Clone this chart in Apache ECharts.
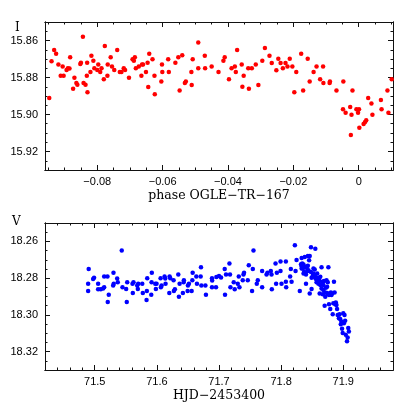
<!DOCTYPE html>
<html><head><meta charset="utf-8">
<script src="https://cdn.jsdelivr.net/npm/echarts@6/dist/echarts.min.js"></script>
<style>html,body{margin:0;padding:0;background:#fff}#c{width:415px;height:415px}</style>
</head><body><div id="c"></div>
<script>
// ---- top panel: phase vs I magnitude ----
const phase = [
-0.0947,-0.0940,-0.0932,-0.0926,-0.0919,-0.0912,-0.0906,-0.0903,-0.0894,-0.0890,
-0.0885,-0.0883,-0.0874,-0.0870,-0.0864,-0.0861,-0.0852,-0.0850,-0.0844,-0.0842,
-0.0836,-0.0832,-0.0831,-0.0830,-0.0821,-0.0818,-0.0812,-0.0809,-0.0800,-0.0797,
-0.0791,-0.0787,-0.0780,-0.0777,-0.0769,-0.0768,-0.0759,-0.0755,-0.0748,-0.0739,
-0.0731,-0.0726,-0.0719,-0.0715,-0.0703,-0.0692,-0.0688,-0.0685,-0.0682,-0.0673,
-0.0665,-0.0663,-0.0660,-0.0651,-0.0646,-0.0644,-0.0641,-0.0631,-0.0625,-0.0624,
-0.0604,-0.0602,-0.0601,-0.0583,-0.0581,-0.0561,-0.0552,-0.0548,-0.0540,-0.0532,
-0.0529,-0.0512,-0.0511,-0.0508,-0.0491,-0.0491,-0.0471,-0.0470,
-0.0450,-0.0429,-0.0414,-0.0410,-0.0397,-0.0389,-0.0379,-0.0376,-0.0372,-0.0358,
-0.0356,-0.0352,-0.0338,-0.0336,-0.0327,-0.0315,-0.0307,-0.0295,-0.0287,-0.0273,
-0.0266,-0.0252,-0.0246,-0.0239,-0.0232,-0.0224,-0.0218,-0.0211,-0.0203,-0.0197,
-0.0191,-0.0176,-0.0170,-0.0156,-0.0150,-0.0138,-0.0129,-0.0118,-0.0109,-0.0108,
-0.0089,-0.0088,-0.0068,-0.0048,-0.0047,-0.0040,-0.0026,-0.0022,-0.0024,-0.0019,
-0.0007,-0.0002,0.0001,0.0002,0.0015,0.0019,0.0023,0.0029,0.0039,0.0042,
0.0068,0.0070,0.0088,0.0091,0.0101
];
const magI = [
15.8911,15.8712,15.8651,15.8671,15.8730,15.8790,15.8741,15.8790,15.8759,15.8750,
15.8752,15.8690,15.8861,15.8801,15.8830,15.8839,15.8727,15.8720,15.8580,15.8830,
15.8839,15.8790,15.8720,15.8880,15.8770,15.8682,15.8710,15.8750,15.8759,15.8730,
15.8770,15.8750,15.8810,15.8630,15.8790,15.8730,15.8690,15.8741,15.8759,15.8651,
15.8770,15.8770,15.8750,15.8759,15.8801,15.8701,15.8710,15.8690,15.8750,15.8741,
15.8790,15.8730,15.8730,15.8770,15.8720,15.8852,15.8671,15.8701,15.8790,15.8891,
15.8821,15.8730,15.8770,15.8701,15.8770,15.8720,15.8690,15.8870,15.8680,15.8830,
15.8821,15.8770,15.8841,15.8701,15.8611,15.8750,15.8682,15.8750,
15.8741,15.8770,15.8710,15.8690,15.8810,15.8750,15.8741,15.8770,15.8651,15.8730,
15.8850,15.8790,15.8750,15.8861,15.8750,15.8730,15.8841,15.8710,15.8640,15.8682,
15.8721,15.8761,15.8699,15.8721,15.8750,15.8721,15.8741,15.8699,15.8741,15.8880,
15.8770,15.8671,15.8870,15.8699,15.8821,15.8770,15.8741,15.8810,15.8741,15.8830,
15.8830,15.8821,15.8870,15.8971,15.8821,15.8991,15.8960,15.9002,15.9111,15.8870,
15.8971,15.8991,15.8971,15.9071,15.9051,15.9042,15.9031,15.8911,15.8940,15.9002,
15.8921,15.8971,15.8870,15.8991,15.8810
];

// ---- bottom panel: HJD-2453400 vs V magnitude ----
const hjd = [
71.4894,71.4894,71.4903,71.4974,71.4990,71.5055,71.5055,71.5097,71.5135,71.5152,
71.5152,71.5205,71.5210,71.5226,71.5297,71.5302,71.5306,71.5361,71.5371,71.5435,
71.5447,71.5506,71.5516,71.5523,71.5608,71.5613,71.5624,71.5684,71.5694,71.5700,
71.5765,71.5774,71.5834,71.5839,71.5845,71.5910,71.5915,71.5919,71.5974,71.5995,
71.5984,71.6060,71.6065,71.6076,71.6124,71.6135,71.6140,71.6200,71.6205,71.6216,
71.6269,71.6274,71.6290,71.6345,71.6355,71.6366,71.6419,71.6431,71.6435,71.6495,
71.6500,71.6516,71.6560,71.6571,71.6576,71.6635,71.6645,71.6710,71.6705,71.6716,
71.6781,71.6790,
71.6887,71.6890,71.6887,71.6952,71.6958,71.7000,71.7033,71.7097,71.7092,71.7113,
71.7168,71.7177,71.7184,71.7237,71.7253,71.7302,71.7318,71.7329,71.7382,71.7394,
71.7403,71.7463,71.7479,71.7532,71.7544,71.7555,71.7608,71.7624,71.7694,71.7694,
71.7765,71.7780,71.7834,71.7845,71.7850,71.7910,71.7919,71.7931,71.7990,71.7990,
71.8006,71.8076,71.8076,71.8081,71.8145,71.8156,71.8168,71.8221,71.8232,71.8248,
71.830,71.832,71.833,71.834,71.833,71.835,71.836,71.837,71.838,71.839,
71.840,71.841,71.842,71.843,71.843,71.845,71.846,71.846,71.848,71.849,
71.849,71.851,71.852,71.853,71.854,71.855,71.855,71.856,71.857,71.858,
71.859,71.860,71.861,71.862,71.863,71.865,71.866,71.867,71.868,71.869,
71.870,71.871,71.871,71.872,71.873,71.874,71.874,71.875,71.876,71.877,
71.877,71.879,71.880,71.881,71.882,71.883,71.884,71.885,71.886,71.887,
71.888,71.889,71.890,71.891,71.893,71.894,71.895,71.896,71.897,71.898,
71.899,71.900,71.901,71.902,71.903,71.904,71.906,71.907,71.908,71.909,
71.833,71.836,71.840,71.844,71.848,71.852,71.854,71.858,71.861,71.863,
71.865,71.868
];
const magV = [
18.2870,18.2831,18.2750,18.2805,18.2798,18.2831,18.2861,18.2861,18.2856,18.2791,
18.2850,18.2791,18.2930,18.2890,18.2840,18.2771,18.2831,18.2802,18.2822,18.2650,
18.2850,18.2859,18.2930,18.2822,18.2831,18.2881,18.2822,18.2840,18.2859,18.2831,
18.2831,18.2881,18.2919,18.2870,18.2800,18.2890,18.2822,18.2771,18.2831,18.2831,
18.2859,18.2800,18.2850,18.2840,18.2791,18.2802,18.2831,18.2881,18.2791,18.2800,
18.2811,18.2870,18.2861,18.2780,18.2901,18.2831,18.2881,18.2822,18.2811,18.2870,
18.2840,18.2831,18.2870,18.2811,18.2771,18.2791,18.2831,18.2741,18.2791,18.2840,
18.2840,18.2890,
18.2800,18.2813,18.2850,18.2850,18.2794,18.2789,18.2796,18.2890,18.2750,18.2780,
18.2721,18.2780,18.2850,18.2822,18.2861,18.2831,18.2791,18.2850,18.2811,18.2780,
18.2771,18.2811,18.2730,18.2870,18.2750,18.2650,18.2831,18.2811,18.2761,18.2850,
18.2780,18.2771,18.2761,18.2780,18.2861,18.2721,18.2831,18.2771,18.2710,18.2761,
18.2831,18.2710,18.2820,18.2850,18.2791,18.2750,18.2820,18.2621,18.2761,18.2701,
18.2870,18.2724,18.2690,18.2721,18.2735,18.2748,18.2775,18.2766,18.2685,18.2739,
18.2831,18.2744,18.2762,18.2679,18.2733,18.2703,18.2679,18.2883,18.2632,18.2798,
18.2859,18.2787,18.2748,18.2793,18.2753,18.2798,18.2640,18.2805,18.2823,18.2775,
18.2816,18.2831,18.2816,18.2883,18.2793,18.2741,18.2820,18.2888,18.2838,18.2816,
18.2950,18.2901,18.2878,18.2852,18.2811,18.2881,18.2847,18.2823,18.2741,18.2892,
18.2942,18.2968,18.2878,18.2892,18.2883,18.2996,18.2937,18.2820,18.2878,18.2942,
18.2932,18.2946,18.2968,18.3000,18.3018,18.2996,18.3022,18.3051,18.3036,18.3076,
18.3099,18.2991,18.3045,18.3000,18.3032,18.3108,18.3144,18.3123,18.3072,18.3090,
18.2748,18.2726,18.2780,18.2757,18.2766,18.2775,18.2784,18.2798,18.2805,18.2838,
18.2856,18.2865
];

const topXTitle = 'phase OGLE\u2212TR\u2212167';
const botXTitle = 'HJD\u22122453400';
const topYTitle = 'I';
const botYTitle = 'V';

const TICK_FONT = '"Liberation Sans", Arial, sans-serif';
const TITLE_FONT = '"DejaVu Serif", serif';
const INK = '#111';

function fmtPhase(v) {
  if (Math.abs(v) < 1e-9) return '0';
  return (v < 0 ? '\u2212' : '') + Math.abs(v).toFixed(2);
}

function axes(dim, grid, min, max, major, minor, fmt, name) {
  const pos = dim === 'x' ? ['bottom', 'top'] : ['left', 'right'];
  const inv = dim === 'y';
  const span = max - min;
  const base = {
    type: 'value', gridIndex: grid, min: min, max: max, inverse: inv,
    splitLine: { show: false },
    axisLine: { show: true, onZero: false, lineStyle: { color: INK, width: 1 } },
    scale: true
  };
  const list = [];
  [0, 1].forEach(side => {
    list.push(Object.assign({}, base, {
      position: pos[side],
      splitNumber: Math.round(span / major),
      minInterval: major, maxInterval: major,
      axisTick: { show: true, inside: true, length: 5, lineStyle: { color: INK, width: 1 } },
      axisLabel: side === 0 ? {
        show: true, formatter: fmt, showMinLabel: false, showMaxLabel: false,
        color: '#000', fontFamily: TICK_FONT, fontSize: 11, margin: dim === 'x' ? 6 : 7
      } : { show: false },
      name: side === 0 && dim === 'x' ? name : '',
      nameLocation: 'middle', nameGap: 19,
      nameTextStyle: { fontFamily: TITLE_FONT, fontSize: 12.5, color: '#000' }
    }));
    list.push(Object.assign({}, base, {
      position: pos[side],
      splitNumber: Math.round(span / minor),
      minInterval: minor, maxInterval: minor,
      axisTick: { show: true, inside: true, length: 2.5, lineStyle: { color: INK, width: 1 } },
      axisLabel: { show: false }
    }));
  });
  return list;
}

const xAxes = [].concat(
  axes('x', 0, -0.096, 0.0105, 0.02, 0.005, fmtPhase, topXTitle),
  axes('x', 1, 71.42, 71.98, 0.1, 0.02, v => v.toFixed(1), botXTitle)
);
const yAxes = [].concat(
  axes('y', 0, 15.85, 15.93, 0.02, 0.005, v => v.toFixed(2), ''),
  axes('y', 1, 18.25, 18.33, 0.02, 0.005, v => v.toFixed(2), '')
);

const chart = echarts.init(document.getElementById('c'), null, { renderer: 'canvas' });
chart.setOption({
  animation: false,
  backgroundColor: '#fff',
  grid: [
    { left: 45, top: 22, width: 348, height: 148 },
    { left: 45, top: 223, width: 348, height: 147 }
  ],
  xAxis: xAxes,
  yAxis: yAxes,
  graphic: [
    { type: 'text', left: 15, top: 22, style: { text: topYTitle, font: '12px ' + TITLE_FONT, fill: '#000' } },
    { type: 'text', left: 12, top: 216, style: { text: botYTitle, font: '12px ' + TITLE_FONT, fill: '#000' } }
  ],
  series: [
    {
      type: 'scatter', xAxisIndex: 0, yAxisIndex: 0, symbol: 'circle', symbolSize: 4.5,
      itemStyle: { color: '#ff0000', opacity: 1 },
      data: phase.map((p, i) => [p, magI[i]])
    },
    {
      type: 'scatter', xAxisIndex: 4, yAxisIndex: 4, symbol: 'circle', symbolSize: 4.5,
      itemStyle: { color: '#0000ff', opacity: 1 },
      data: hjd.map((t, i) => [t, magV[i]])
    }
  ]
});
</script>
</body></html>
